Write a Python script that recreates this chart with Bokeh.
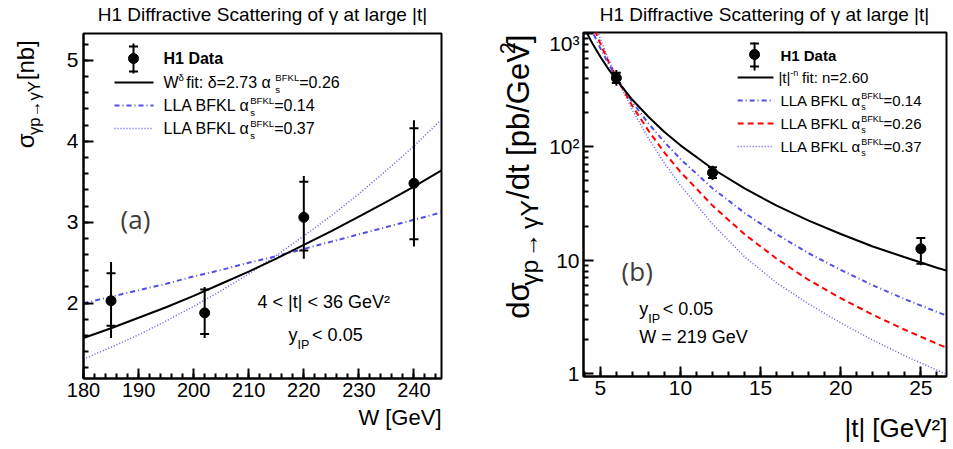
import math
from bokeh.plotting import figure
from bokeh.models import Range1d, Label, FixedTicker, SingleIntervalTicker, ColumnDataSource
from bokeh.layouts import row, column
from bokeh.embed import file_html
from bokeh.resources import INLINE

# ---------------- data ----------------
W_data = [185, 202, 220, 240]
sigma = [2.03, 1.88, 3.06, 3.48]
sigma_stat_lo = [1.72, 1.62, 2.65, 2.79]
sigma_stat_hi = [2.37, 2.17, 3.50, 4.16]
sigma_tot_lo = [1.57, 1.57, 2.55, 2.70]
sigma_tot_hi = [2.51, 2.20, 3.57, 4.26]

W_curve = [180, 185, 190, 195, 200, 205, 210, 215, 220, 225, 230, 235, 240, 245]
W_fit = [1.57, 1.69, 1.82, 1.95, 2.09, 2.24, 2.39, 2.55, 2.72, 2.89, 3.07, 3.25, 3.44, 3.64]
W_bfkl014 = [2.00, 2.08, 2.16, 2.24, 2.33, 2.41, 2.50, 2.58, 2.67, 2.76, 2.85, 2.94, 3.03, 3.12]
W_bfkl037 = [1.31, 1.455, 1.61, 1.78, 1.96, 2.155, 2.36, 2.59, 2.83, 3.08, 3.35, 3.64, 3.94, 4.27]

t_data = [6, 12, 25]
dsdt = [405, 59, 12.6]
dsdt_stat_lo = [365, 53, 9.3]
dsdt_stat_hi = [450, 66, 15.7]
dsdt_tot_lo = [345, 51, 9.0]
dsdt_tot_hi = [475, 68, 15.8]

t_curve = [4, 4.5, 5, 5.5, 6, 7, 8, 9, 10, 12, 14, 16, 18, 20, 22, 24, 26, 27]
t_fit = [1114, 821, 624, 487, 389, 260, 184, 135, 103, 64, 42.9, 30.3, 22.3, 17.0, 13.2, 10.6, 8.57, 7.77]
t_bfkl014 = [1531, 1044, 741, 544, 410, 248, 161, 110, 78, 43, 26.1, 16.9, 11.5, 8.2, 6.0, 4.53, 3.49, 3.09]
t_bfkl026 = [1884, 1209, 814, 569, 410, 229, 139, 89, 60, 30.3, 16.9, 10.3, 6.68, 4.61, 3.30, 2.43, 1.83, 1.60]
t_bfkl037 = [2344, 1413, 898, 596, 410, 211, 119, 71.7, 45.6, 20.8, 10.7, 6.3, 4.1, 2.79, 1.97, 1.43, 1.07, 0.93]

title_text = "H1 Diffractive Scattering of γ at large |t|"
log_ticks = [1, 10, 100, 1000]
log_tick_labels = ["1", "10", "10²", "10³"]

# ---------------- styling helpers ----------------
FONT = "Liberation Sans"
C_DASHDOT = "#4f4fe6"
C_DOT = "#5c5cf5"
C_RED = "#ff0000"
DASH_DOT = "5 3 1 3"
DOTTED = "1 2"

WID = {' ': .278, '!': .278, '(': .333, ')': .333, '+': .584, ',': .278, '-': .333, '.': .278,
       '/': .278, ':': .278, '<': .584, '=': .584, '>': .584, '[': .278, ']': .278, '|': .26,
       'A': .667, 'B': .667, 'C': .722, 'D': .722, 'E': .667, 'F': .611, 'G': .778, 'H': .722,
       'I': .278, 'K': .667, 'L': .556, 'P': .667, 'S': .667, 'V': .667, 'W': .944, 'Y': .667,
       'a': .556, 'b': .556, 'c': .5, 'd': .556, 'e': .556, 'f': .278, 'g': .556, 'i': .222,
       'l': .222, 'n': .556, 'o': .556, 'p': .556, 'r': .333, 's': .5, 't': .278, 'v': .5,
       'y': .5, 'α': .58, 'γ': .58, 'δ': .556, 'σ': .6, '→': 1.15, '²': .333}
MID = 0.35  # distance from baseline to the text's middle, in font sizes


def tw(s, size):
    return sum(WID.get(c, .556) for c in s) * size


# frame geometry in page pixels (page origin = picture origin)
L1, R1, T1, B1 = 83, 441, 33, 378
X1 = (180, 245)
Y1 = (1.07, 5.33)
L2, R2, T2, B2 = 581, 946, 32, 376
X2 = (3.95, 26.6)
Y2 = (0.94, 1020)


def conv1(ix, iy):
    return (X1[0] + (ix - L1) / (R1 - L1) * (X1[1] - X1[0]),
            Y1[0] + (B1 - iy) / (B1 - T1) * (Y1[1] - Y1[0]))


def conv2(ix, iy):
    la, lb = math.log10(Y2[0]), math.log10(Y2[1])
    return (X2[0] + (ix - L2) / (R2 - L2) * (X2[1] - X2[0]),
            10 ** (la + (B2 - iy) / (B2 - T2) * (lb - la)))


def ident(ix, iy):
    return ix, iy


def rich(p, conv, ix, iy, runs, F, vertical=False, align="left", bold=False, color="black", font=FONT):
    """Text with sub/superscripts; (ix, iy) is the baseline start (or end when align='right')."""
    items = []
    adv = 0.0
    for r in runs:
        if r[0] == "GAP":
            adv += r[1] * F
        elif r[0] == "STACK":
            ws = []
            for (t, s, dy) in r[1]:
                items.append((t, s, dy, adv))
                ws.append(tw(t, s * F))
            adv += max(ws)
        else:
            t, s, dy = r
            items.append((t, s, dy, adv))
            adv += tw(t, s * F)
    off = {"left": 0.0, "right": -adv, "center": -adv / 2}[align]
    for t, s, dy, a in items:
        mid = MID * s * F
        if vertical:
            px, py, ang = ix - dy * F - mid, iy - (a + off), math.pi / 2
        else:
            px, py, ang = ix + a + off, iy - dy * F - mid, 0.0
        x, y = conv(px, py)
        p.add_layout(Label(x=x, y=y, text=t, angle=ang, text_font=font,
                           text_font_size=f"{s * F:.1f}px", text_baseline="middle",
                           text_align="left", text_color=color,
                           text_font_style="bold" if bold else "normal"))


def label(p, conv, ix, iy, text, F, align="left", baseline="alphabetic", bold=False,
          color="black", font=FONT):
    if baseline == "alphabetic":
        iy -= MID * F
        baseline = "middle"
    x, y = conv(ix, iy)
    p.add_layout(Label(x=x, y=y, text=text, text_font=font, text_font_size=f"{F}px",
                       text_align=align, text_baseline=baseline, text_color=color,
                       text_font_style="bold" if bold else "normal"))


def seg(p, conv, ix0, iy0, ix1, iy1, **kw):
    x0, y0 = conv(ix0, iy0)
    x1, y1 = conv(ix1, iy1)
    p.segment(x0=[x0], y0=[y0], x1=[x1], y1=[y1], **kw)


def legend_data_key(p, conv, cx, cy, top, bot, t_top, t_bot):
    seg(p, conv, cx, top, cx, bot, line_color="black", line_width=2)
    for ty in (t_top, t_bot):
        x, y = conv(cx, ty)
        p.scatter(x=[x], y=[y], marker="dash", size=9, line_color="black", line_width=2)
    x, y = conv(cx, cy)
    p.scatter(x=[x], y=[y], size=10, color="black")


def style(p):
    p.grid.visible = False
    p.outline_line_color = "black"
    p.outline_line_width = 2
    p.background_fill_color = "white"
    p.border_fill_color = "white"
    for ax in (p.xaxis[0], p.yaxis[0]):
        ax.axis_line_width = 2
        ax.major_tick_line_width = 2
        ax.minor_tick_line_width = 2
        ax.major_tick_in = 10
        ax.major_tick_out = 0
        ax.minor_tick_in = 5
        ax.minor_tick_out = 0
        ax.major_label_text_font = FONT
        ax.major_label_text_color = "black"
        ax.major_label_standoff = 4


def strip(x0, y0, w, h):
    s = figure(width=w, height=h, x_range=Range1d(x0, x0 + w), y_range=Range1d(y0 + h, y0),
               output_backend="svg", toolbar_location=None, min_border=0,
               x_axis_location=None, y_axis_location=None)
    s.outline_line_color = None
    s.grid.visible = False
    s.background_fill_color = "white"
    s.border_fill_color = "white"
    return s


def errorbars(p, x, y, slo, shi, tlo, thi):
    src = ColumnDataSource(dict(x=x, y=y, slo=slo, shi=shi, tlo=tlo, thi=thi))
    p.segment(x0="x", y0="tlo", x1="x", y1="thi", source=src, line_color="black", line_width=2)
    p.scatter(x="x", y="slo", source=src, marker="dash", size=9, line_color="black", line_width=2)
    p.scatter(x="x", y="shi", source=src, marker="dash", size=9, line_color="black", line_width=2)
    p.scatter(x="x", y="y", source=src, size=10, color="black")


ALPHA = ("STACK", [("s", 0.6, -0.3), ("BFKL", 0.6, 0.45)])

# ---------------- panel (a) ----------------
p1 = figure(width=425, height=374, x_range=Range1d(*X1), y_range=Range1d(*Y1),
            output_backend="svg", toolbar_location=None,
            min_border_left=L1 - 46, min_border_right=471 - R1,
            min_border_top=T1 - 31, min_border_bottom=405 - B1)
style(p1)
p1.yaxis.major_label_standoff = 5
p1.xaxis.ticker = SingleIntervalTicker(interval=10, num_minor_ticks=5)
p1.yaxis.ticker = SingleIntervalTicker(interval=1, num_minor_ticks=5)
p1.xaxis.major_label_text_font_size = "20px"
p1.yaxis.major_label_text_font_size = "21px"

p1.line(W_curve, W_bfkl037, line_color=C_DOT, line_width=1.5, line_dash=DOTTED)
p1.line(W_curve, W_bfkl014, line_color=C_DASHDOT, line_width=2, line_dash=DASH_DOT)
p1.line(W_curve, W_fit, line_color="black", line_width=2)
errorbars(p1, W_data, sigma, sigma_stat_lo, sigma_stat_hi, sigma_tot_lo, sigma_tot_hi)

legend_data_key(p1, conv1, 133, 58, 43, 73, 46, 71)
label(p1, conv1, 163, 58, "H1 Data", 16, baseline="middle", bold=True)
seg(p1, conv1, 114, 82, 153, 82, line_color="black", line_width=2)
seg(p1, conv1, 114, 105, 153, 105, line_color=C_DASHDOT, line_width=2, line_dash=DASH_DOT)
seg(p1, conv1, 114, 128, 153, 128, line_color=C_DOT, line_width=1.5, line_dash=DOTTED)
rich(p1, conv1, 163, 87.5, [("W", 1, 0), ("δ", 0.6, 0.45), ("GAP", 0.15), (" fit: δ=2.73 α", 1, 0),
                            ALPHA, ("=0.26", 1, 0)], 16)
rich(p1, conv1, 163, 110.5, [("LLA BFKL α", 1, 0), ALPHA, ("=0.14", 1, 0)], 16)
rich(p1, conv1, 163, 133.5, [("LLA BFKL α", 1, 0), ALPHA, ("=0.37", 1, 0)], 16)

label(p1, conv1, 135, 218, "(a)", 26, align="center", baseline="middle", color="#3c3c3c", font="Open Sans")
label(p1, conv1, 257, 308, "4 < |t| < 36 GeV²", 18)
rich(p1, conv1, 288, 341, [("y", 1, 0), ("IP", 0.7, -0.45), ("GAP", 0.15), (" < 0.05", 1, 0)], 18)

t1 = strip(0, 0, 471, 31)
label(t1, ident, 262, 21, title_text, 19, align="center")
y1 = strip(0, 31, 46, 374)
rich(y1, ident, 33, 35, [("σ", 1, 0), ("γp→γY", 0.7, -0.28), (" [nb]", 1, 0)], 24,
     vertical=True, align="right")
x1 = strip(0, 405, 471, 44)
label(x1, ident, 441, 425, "W [GeV]", 22, align="right")

panel_a = column(t1, row(y1, p1, spacing=0), x1, spacing=0)

# ---------------- panel (b) ----------------
YS2 = 546  # right edge of the strip holding the y title
p2 = figure(width=953 - YS2, height=373, x_range=Range1d(*X2), y_range=Range1d(*Y2),
            y_axis_type="log", output_backend="svg", toolbar_location=None,
            min_border_left=L2 - YS2, min_border_right=953 - R2,
            min_border_top=T2 - 31, min_border_bottom=404 - B2)
style(p2)
p2.xaxis.ticker = SingleIntervalTicker(interval=5, num_minor_ticks=5)
minor = [m * d for d in (1, 10, 100) for m in range(2, 10)]
p2.yaxis.ticker = FixedTicker(ticks=log_ticks, minor_ticks=minor)
p2.yaxis.major_label_overrides = {float(v): s for v, s in zip(log_ticks, log_tick_labels)}
p2.xaxis.major_label_text_font_size = "21px"
p2.yaxis.major_label_text_font_size = "21px"

p2.line(t_curve, t_bfkl037, line_color=C_DOT, line_width=1.5, line_dash=DOTTED)
p2.line(t_curve, t_bfkl026, line_color=C_RED, line_width=2, line_dash="6 4")
p2.line(t_curve, t_bfkl014, line_color=C_DASHDOT, line_width=2, line_dash=DASH_DOT)
p2.line(t_curve, t_fit, line_color="black", line_width=2)
errorbars(p2, t_data, dsdt, dsdt_stat_lo, dsdt_stat_hi, dsdt_tot_lo, dsdt_tot_hi)

legend_data_key(p2, conv2, 753, 54, 42, 70, 43, 66)
label(p2, conv2, 779, 55, "H1 Data", 15, baseline="middle", bold=True)
seg(p2, conv2, 736, 77, 772, 77, line_color="black", line_width=2)
seg(p2, conv2, 736, 100, 772, 100, line_color=C_DASHDOT, line_width=2, line_dash=DASH_DOT)
seg(p2, conv2, 736, 123, 772, 123, line_color=C_RED, line_width=2, line_dash="6 4")
seg(p2, conv2, 736, 146, 772, 146, line_color=C_DOT, line_width=1.5, line_dash=DOTTED)
rich(p2, conv2, 777, 82, [("|t|", 1, 0), ("-n", 0.6, 0.45), ("GAP", 0.25), (" fit: n=2.60", 1, 0)], 15)
rich(p2, conv2, 779, 105, [("LLA BFKL α", 1, 0), ALPHA, ("=0.14", 1, 0)], 15)
rich(p2, conv2, 779, 128, [("LLA BFKL α", 1, 0), ALPHA, ("=0.26", 1, 0)], 15)
rich(p2, conv2, 779, 151, [("LLA BFKL α", 1, 0), ALPHA, ("=0.37", 1, 0)], 15)

label(p2, conv2, 635, 270, "(b)", 26, align="center", baseline="middle", color="#3c3c3c", font="Open Sans")
rich(p2, conv2, 637, 315, [("y", 1, 0), ("IP", 0.7, -0.45), ("GAP", 0.15), (" < 0.05", 1, 0)], 18)
label(p2, conv2, 637, 343, "W = 219 GeV", 18)

t2 = strip(471, 0, 482, 31)
label(t2, ident, 764, 21, title_text, 19, align="center")
y2 = strip(471, 31, YS2 - 471, 373)
rich(y2, ident, 529, 34, [("dσ", 1, 0), ("γp", 0.8, -0.28), ("GAP", 0.08), ("→", 0.8, -0.28),
                          ("GAP", 0.08), ("γY", 0.8, -0.28), ("GAP", 0.05), ("/dt [pb/GeV", 1, 0),
                          ("2", 0.7, 0.45), ("]", 1, 0)], 31, vertical=True, align="right")
x2 = strip(471, 404, 482, 45)
label(x2, ident, 947, 437, "|t| [GeV²]", 26, align="right")

panel_b = column(t2, row(y2, p2, spacing=0), x2, spacing=0)

layout = row(panel_a, panel_b, spacing=0)
open("out.html", "w").write(file_html(layout, INLINE))
